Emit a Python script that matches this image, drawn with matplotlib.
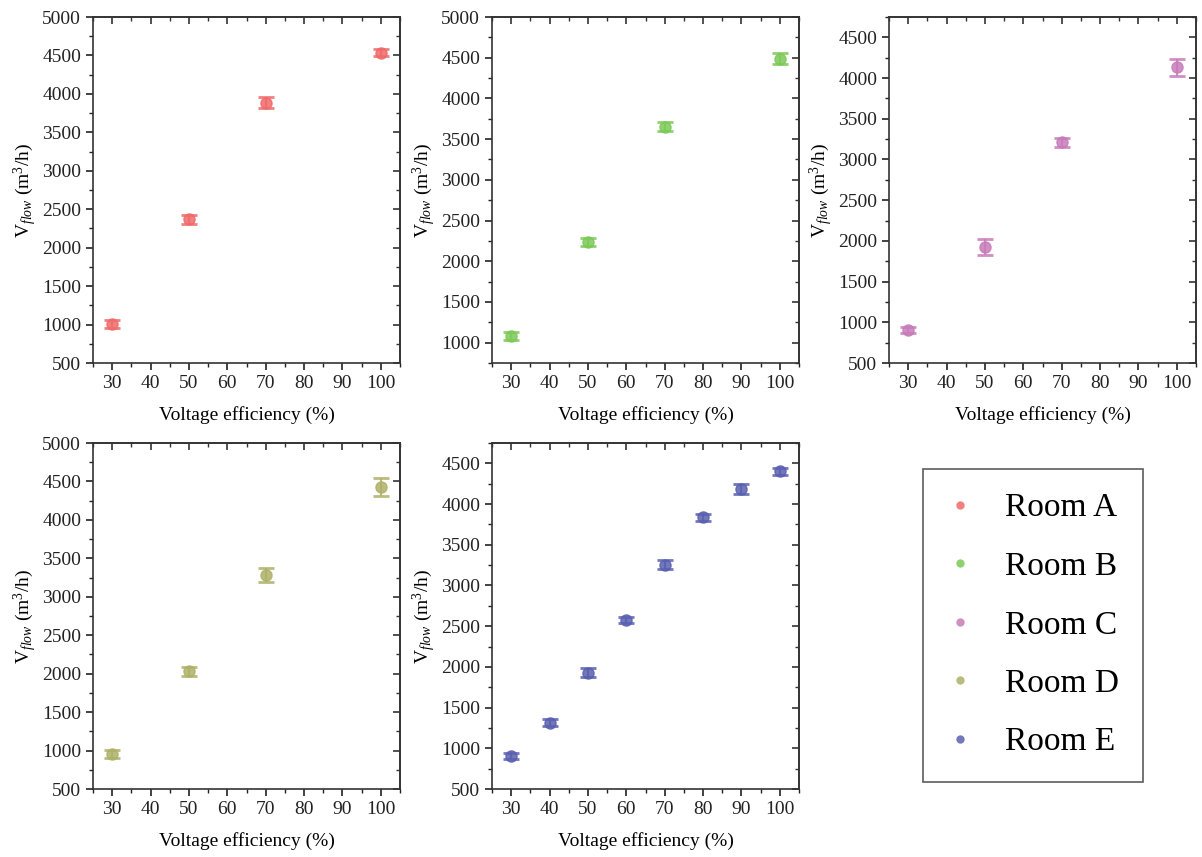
import matplotlib
matplotlib.use("Agg")
import matplotlib.pyplot as plt
from matplotlib.ticker import MultipleLocator
from matplotlib.lines import Line2D

plt.rcParams['font.family'] = ['Liberation Serif', 'DejaVu Serif']
plt.rcParams['mathtext.fontset'] = 'custom'
plt.rcParams['mathtext.rm'] = 'Liberation Serif'
plt.rcParams['mathtext.it'] = 'Liberation Serif:italic'

# data
x_short = [30, 50, 70, 100]
x_long = [30, 40, 50, 60, 70, 80, 90, 100]

room_a = [1005, 2367, 3886, 4535]
room_a_err = [50, 59, 70, 48]
room_b = [1082, 2236, 3652, 4488]
room_b_err = [49, 45, 53, 68]
room_c = [905, 1929, 3210, 4131]
room_c_err = [35, 98, 59, 104]
room_d = [956, 2032, 3281, 4426]
room_d_err = [48, 56, 91, 121]
room_e = [905, 1315, 1930, 2575, 3255, 3837, 4186, 4402]
room_e_err = [37, 40, 51, 40, 57, 40, 61, 40]

names = ['Room A', 'Room B', 'Room C', 'Room D', 'Room E']
colors = ['#f06a6a', '#7cc957', '#c77bb9', '#aeb167', '#5a60b0']
ylims = [(500, 5000), (750, 5000), (500, 4750), (500, 5000), (500, 4750)]

panels = [
    (x_short, room_a, room_a_err),
    (x_short, room_b, room_b_err),
    (x_short, room_c, room_c_err),
    (x_short, room_d, room_d_err),
    (x_long, room_e, room_e_err),
]

W, H = 1202, 857
boxes = [(93, 17), (492, 17), (889, 17), (93, 443), (492, 443)]

fig = plt.figure(figsize=(W / 100, H / 100), dpi=100)

for i, (xs, ys, es) in enumerate(panels):
    left, top = boxes[i]
    ax = fig.add_axes([left / W, 1 - (top + 346) / H, 307 / W, 346 / H])
    ax.errorbar(xs, ys, yerr=es, fmt='o', color=colors[i], ms=8, alpha=0.85,
                elinewidth=1.5, capsize=5.5, capthick=2)
    ax.set_xlim(25, 105)
    ax.set_ylim(*ylims[i])
    ax.xaxis.set_major_locator(MultipleLocator(10))
    ax.xaxis.set_minor_locator(MultipleLocator(5))
    ax.yaxis.set_major_locator(MultipleLocator(500))
    ax.yaxis.set_minor_locator(MultipleLocator(250))
    ax.tick_params(which='both', direction='out', labelsize=14, colors='#222222')
    ax.tick_params(which='major', length=5, width=1.2)
    ax.tick_params(which='minor', length=3, width=1)
    for s in ax.spines.values():
        s.set_color('#333333')
        s.set_linewidth(1.2)
    # mirrored ticks pointing inward on top and right
    top_ax = ax.secondary_xaxis('top')
    top_ax.xaxis.set_major_locator(MultipleLocator(10))
    top_ax.xaxis.set_minor_locator(MultipleLocator(5))
    right_ax = ax.secondary_yaxis('right')
    right_ax.yaxis.set_major_locator(MultipleLocator(500))
    right_ax.yaxis.set_minor_locator(MultipleLocator(250))
    for sa in (top_ax, right_ax):
        sa.tick_params(which='both', direction='in', labelleft=False, labelright=False,
                       labeltop=False, labelbottom=False, colors='#333333')
        sa.tick_params(which='major', length=5, width=1.2)
        sa.tick_params(which='minor', length=3, width=1)
        for s in sa.spines.values():
            s.set_color('#333333')
            s.set_linewidth(1.2)
    ax.set_xlabel('Voltage efficiency (%)', fontsize=14, labelpad=10)
    ax.set_ylabel(r'V$_{\it{flow}}$ (m$^3$/h)', fontsize=14, labelpad=2)

handles = [Line2D([], [], ls='none', marker='o', ms=6, color=c, alpha=0.85, mew=0)
           for c in colors]
leg = fig.legend(handles, names, loc='upper left',
                 bbox_to_anchor=(923 / W, 1 - 469 / H), fontsize=24,
                 frameon=True, fancybox=False, edgecolor='#333333',
                 labelspacing=0.84, handletextpad=0.95, borderpad=0.72,
                 borderaxespad=0, handlelength=0.8)
leg.get_frame().set_linewidth(1.2)

fig.savefig('out.png', dpi=100)
